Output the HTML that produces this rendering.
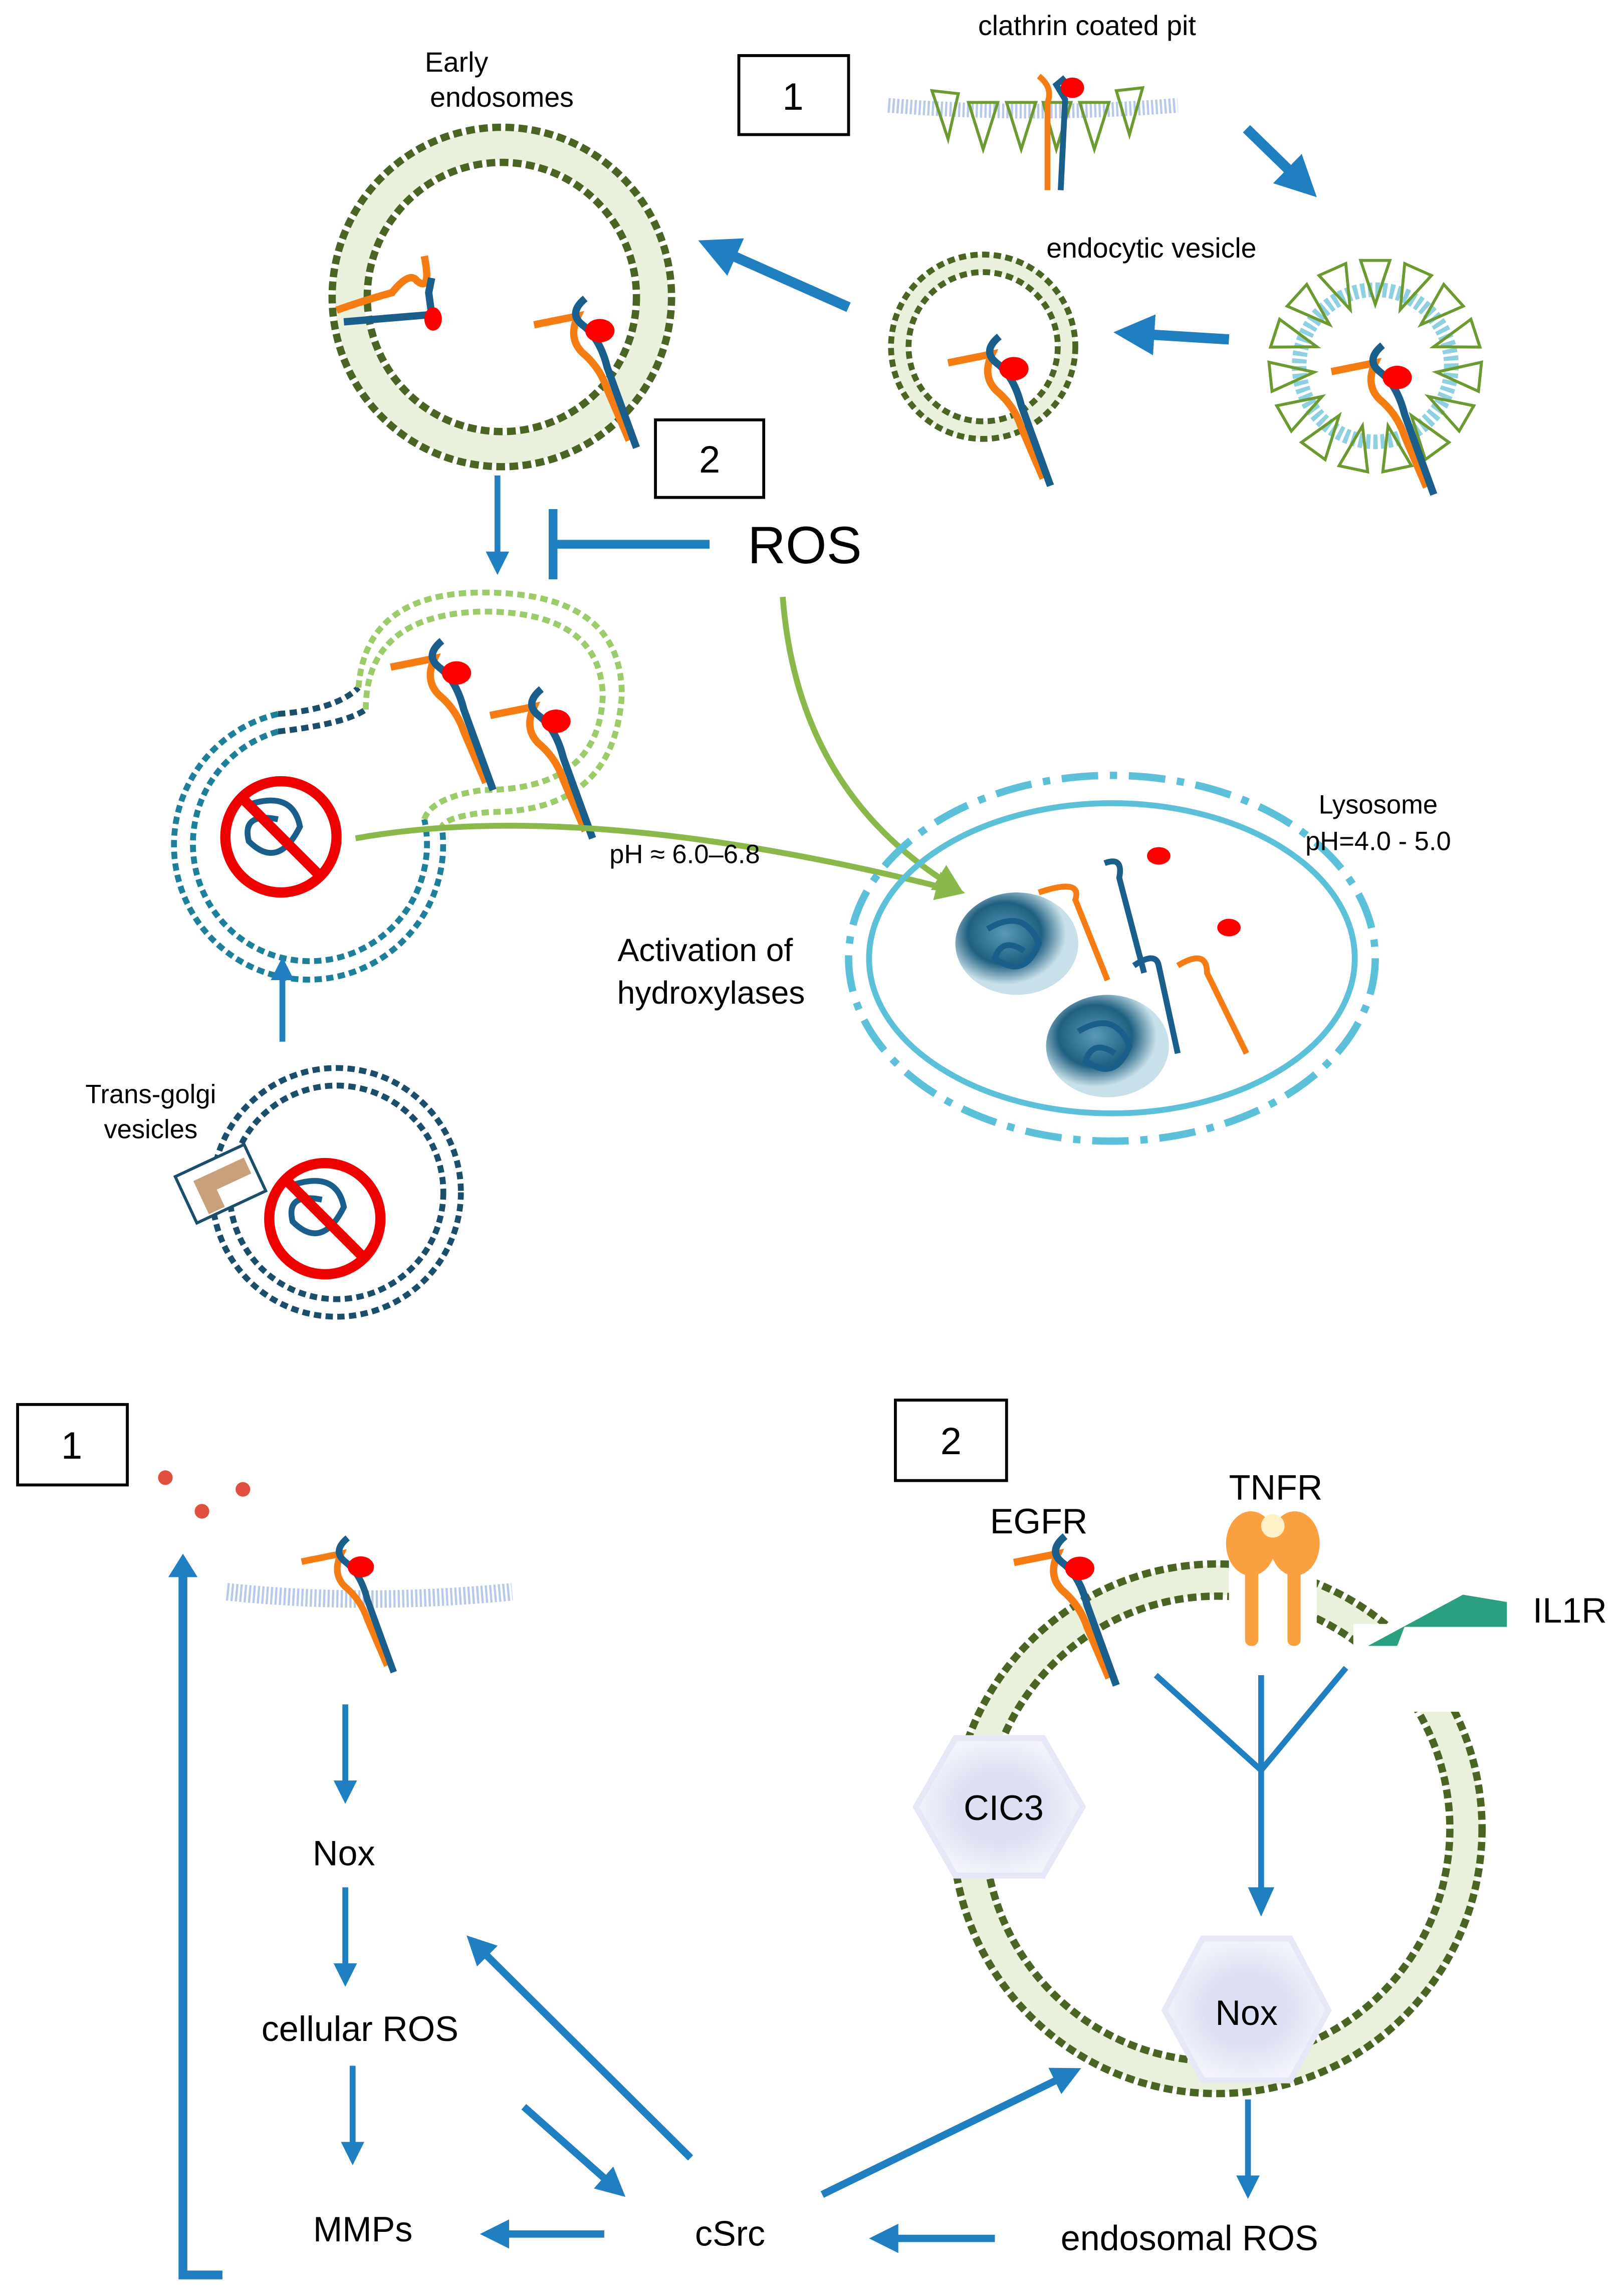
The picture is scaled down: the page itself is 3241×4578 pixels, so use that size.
<!DOCTYPE html>
<html><head><meta charset="utf-8"><style>html,body{margin:0;padding:0;background:#fff}svg{display:block}</style></head>
<body>
<svg width="3241" height="4578" viewBox="0 0 1110 1568" xmlns="http://www.w3.org/2000/svg" font-family="Liberation Sans, sans-serif">
<defs>
<marker id="ah" viewBox="0 0 10 10" refX="5" refY="5" markerWidth="4" markerHeight="4" orient="auto"><path d="M0,0L10,5L0,10z" fill="#1f7fc0"/></marker>
<marker id="ag" viewBox="0 0 10 10" refX="5" refY="5" markerWidth="5" markerHeight="5" orient="auto"><path d="M0,0L10,5L0,10z" fill="#8ab84a"/></marker>
<g id="rec">
<path d="M-45,-4 Q-25,-8 -15,-10 Q-22,5 -12,15 Q0,25 5,40 L20,75" fill="none" stroke="#f57c12" stroke-width="5"/>
<path d="M-10,-22 Q-22,-12 -12,-4 Q0,5 5,25 L25,80" fill="none" stroke="#1a5e8c" stroke-width="5"/>
<ellipse cx="0" cy="0" rx="10" ry="8" fill="#f00"/>
</g>
<path id="tri" d="M930,178 L950,178 L940,208 Z" fill="none" stroke="#6d9a30" stroke-width="2"/>
<radialGradient id="sph" cx="0.4" cy="0.4"><stop offset="0" stop-color="#5a9ab8"/><stop offset="0.6" stop-color="#1f5f80"/><stop offset="1" stop-color="#c8e0ea"/></radialGradient>
<radialGradient id="hex"><stop offset="0.5" stop-color="#dde0f2"/><stop offset="1" stop-color="#f2f3fb"/></radialGradient>
</defs>

<!-- Top: clathrin coated pit -->
<text x="743" y="24" font-size="19" text-anchor="middle">clathrin coated pit</text>
<rect x="505" y="38" width="75" height="54" fill="none" stroke="#000" stroke-width="2"/>
<text x="542" y="75" font-size="26" text-anchor="middle">1</text>
<path d="M607,72 Q706,80 805,72" fill="none" stroke="#b8c8e8" stroke-width="10" stroke-dasharray="1.5 1.5"/>
<path d="M637,62 L648,95 L655,64 Z M662,70 L672,102 L682,70 Z M688,70 L698,102 L708,70 Z M713,70 L722,102 L732,70 Z M738,70 L748,102 L758,70 Z M763,62 L772,92 L781,60 Z" fill="none" stroke="#6d9a30" stroke-width="2"/>
<path d="M710,52 Q720,60 716,70 L716,130" fill="none" stroke="#f57c12" stroke-width="4"/>
<path d="M728,53 L722,58 L728,68 L725,130" fill="none" stroke="#1a5e8c" stroke-width="4"/>
<ellipse cx="733" cy="60" rx="8" ry="7" fill="#f00"/>
<line x1="852" y1="88" x2="890" y2="125" stroke="#1f7fc0" stroke-width="7" marker-end="url(#ah)"/>

<!-- Clathrin vesicle -->
<circle cx="940" cy="250" r="52" fill="none" stroke="#8fd0e0" stroke-width="10" stroke-dasharray="3 2"/>
<use href="#tri"/>
<use href="#tri" transform="rotate(24 940 250)"/>
<use href="#tri" transform="rotate(48 940 250)"/>
<use href="#tri" transform="rotate(72 940 250)"/>
<use href="#tri" transform="rotate(96 940 250)"/>
<use href="#tri" transform="rotate(120 940 250)"/>
<use href="#tri" transform="rotate(144 940 250)"/>
<use href="#tri" transform="rotate(168 940 250)"/>
<use href="#tri" transform="rotate(192 940 250)"/>
<use href="#tri" transform="rotate(216 940 250)"/>
<use href="#tri" transform="rotate(240 940 250)"/>
<use href="#tri" transform="rotate(264 940 250)"/>
<use href="#tri" transform="rotate(288 940 250)"/>
<use href="#tri" transform="rotate(312 940 250)"/>
<use href="#tri" transform="rotate(336 940 250)"/>
<use href="#rec" x="955" y="258"/>
<text x="787" y="176" font-size="19" text-anchor="middle">endocytic vesicle</text>
<line x1="840" y1="232" x2="775" y2="228" stroke="#1f7fc0" stroke-width="7" marker-end="url(#ah)"/>

<!-- Endocytic vesicle -->
<circle cx="672" cy="237" r="57" fill="none" stroke="#e9f0dc" stroke-width="12"/>
<circle cx="672" cy="237" r="63" fill="none" stroke="#4a6424" stroke-width="4" stroke-dasharray="5 3"/>
<circle cx="672" cy="237" r="51" fill="none" stroke="#4a6424" stroke-width="4" stroke-dasharray="5 3"/>
<use href="#rec" x="693" y="252"/>
<line x1="580" y1="210" x2="490" y2="170" stroke="#1f7fc0" stroke-width="7" marker-end="url(#ah)"/>

<!-- Early endosomes -->
<text x="312" y="49" font-size="19" text-anchor="middle">Early</text>
<text x="343" y="73" font-size="19" text-anchor="middle">endosomes</text>
<circle cx="343" cy="203" r="104" fill="none" stroke="#e9f0dc" stroke-width="20"/>
<circle cx="343" cy="203" r="116" fill="none" stroke="#4a6424" stroke-width="5" stroke-dasharray="6 3"/>
<circle cx="343" cy="203" r="92" fill="none" stroke="#4a6424" stroke-width="5" stroke-dasharray="6 3"/>
<path d="M230,212 Q250,205 268,200 Q280,185 285,192 Q295,200 290,175" fill="none" stroke="#f57c12" stroke-width="5"/>
<path d="M235,220 L295,215 L293,200 L295,190" fill="none" stroke="#1a5e8c" stroke-width="5"/>
<ellipse cx="296" cy="218" rx="6" ry="8" fill="#f00"/>
<use href="#rec" x="410" y="226"/>

<rect x="448" y="287" width="74" height="53" fill="none" stroke="#000" stroke-width="2"/>
<text x="485" y="323" font-size="26" text-anchor="middle">2</text>
<line x1="340" y1="325" x2="340" y2="385" stroke="#1f7fc0" stroke-width="4" marker-end="url(#ah)"/>
<line x1="485" y1="372" x2="380" y2="372" stroke="#1f7fc0" stroke-width="6"/>
<line x1="378" y1="348" x2="378" y2="396" stroke="#1f7fc0" stroke-width="6"/>
<text x="550" y="385" font-size="36" text-anchor="middle">ROS</text>
<path d="M535,408 Q545,540 650,605" fill="none" stroke="#8ab84a" stroke-width="4" marker-end="url(#ag)"/>

<!-- Fused endosome -->
<path d="M190,500 A80,80 0 1 0 290,560" fill="none" stroke="#1e7f9a" stroke-width="4" stroke-dasharray="5 3"/>
<path d="M190,488 A92,92 0 1 0 302,565" fill="none" stroke="#1e7f9a" stroke-width="4" stroke-dasharray="5 3"/>
<path d="M190,500 Q235,495 250,485" fill="none" stroke="#1a4e6a" stroke-width="4" stroke-dasharray="5 3"/>
<path d="M190,488 Q230,485 245,470" fill="none" stroke="#1a4e6a" stroke-width="4" stroke-dasharray="5 3"/>
<path d="M250,485 Q250,420 330,418 Q410,418 412,475 Q410,540 330,540 Q295,545 290,560" fill="none" stroke="#9ccb6a" stroke-width="4" stroke-dasharray="5 3"/>
<path d="M245,470 Q250,405 330,405 Q425,405 425,475 Q420,555 335,555 Q305,558 302,565" fill="none" stroke="#9ccb6a" stroke-width="4" stroke-dasharray="5 3"/>
<use href="#rec" x="312" y="460"/>
<use href="#rec" x="380" y="493"/>
<circle cx="192" cy="572" r="38" fill="none" stroke="#e00" stroke-width="7"/>
<path d="M170,550 q30,-10 35,15 q-15,30 -35,10 q-5,-20 20,-15" fill="none" stroke="#1a5e8c" stroke-width="4"/>
<line x1="166" y1="546" x2="218" y2="598" stroke="#e00" stroke-width="7"/>
<path d="M243,573 Q400,545 650,608" fill="none" stroke="#8ab84a" stroke-width="4" marker-end="url(#ag)"/>
<text x="468" y="590" font-size="18" text-anchor="middle">pH ≈ 6.0–6.8</text>
<text x="482" y="657" font-size="22" text-anchor="middle">Activation of</text>
<text x="486" y="686" font-size="22" text-anchor="middle">hydroxylases</text>

<!-- Lysosome -->
<ellipse cx="760" cy="655" rx="166" ry="106" fill="none" stroke="#5bc0d8" stroke-width="4"/>
<ellipse cx="760" cy="655" rx="180" ry="125" fill="none" stroke="#5bc0d8" stroke-width="5" stroke-dasharray="25 8 5 8"/>
<text x="942" y="556" font-size="18" text-anchor="middle">Lysosome</text>
<text x="942" y="581" font-size="18" text-anchor="middle">pH=4.0 - 5.0</text>
<ellipse cx="695" cy="645" rx="42" ry="35" fill="url(#sph)"/>
<ellipse cx="757" cy="715" rx="42" ry="35" fill="url(#sph)"/>
<path d="M675,635 q25,-15 35,10 q-10,25 -30,10 q5,-15 20,-5" fill="none" stroke="#1a5e8c" stroke-width="4"/>
<path d="M737,705 q25,-15 35,10 q-10,25 -30,10 q5,-15 20,-5" fill="none" stroke="#1a5e8c" stroke-width="4"/>
<path d="M710,610 Q740,600 735,615 L757,670" fill="none" stroke="#f57c12" stroke-width="4"/>
<path d="M755,590 Q768,585 765,600 L782,665" fill="none" stroke="#1a5e8c" stroke-width="4"/>
<path d="M775,660 Q790,650 792,660 L805,720" fill="none" stroke="#1a5e8c" stroke-width="4"/>
<path d="M805,660 Q825,648 825,665 L852,720" fill="none" stroke="#f57c12" stroke-width="4"/>
<ellipse cx="792" cy="585" rx="8" ry="6" fill="#f00"/>
<ellipse cx="840" cy="634" rx="8" ry="6" fill="#f00"/>

<line x1="193" y1="712" x2="193" y2="662" stroke="#1f7fc0" stroke-width="4" marker-end="url(#ah)"/>

<!-- Trans-golgi -->
<text x="103" y="754" font-size="18" text-anchor="middle">Trans-golgi</text>
<text x="103" y="778" font-size="18" text-anchor="middle">vesicles</text>
<circle cx="230" cy="815" r="73" fill="none" stroke="#1a4e6a" stroke-width="4" stroke-dasharray="5 3"/>
<circle cx="230" cy="815" r="85" fill="none" stroke="#1a4e6a" stroke-width="4" stroke-dasharray="5 3"/>
<g transform="rotate(-25 150 810)"><rect x="125" y="792" width="52" height="35" fill="#fff" stroke="#1a4e6a" stroke-width="2"/><rect x="135" y="800" width="38" height="12" fill="#c8a07a"/><rect x="135" y="800" width="12" height="25" fill="#c8a07a"/></g>
<circle cx="222" cy="833" r="38" fill="none" stroke="#e00" stroke-width="7"/>
<path d="M200,810 q30,-10 35,15 q-15,30 -35,10 q-5,-20 20,-15" fill="none" stroke="#1a5e8c" stroke-width="4"/>
<line x1="196" y1="807" x2="248" y2="859" stroke="#e00" stroke-width="7"/>

<!-- Bottom left -->
<rect x="12" y="960" width="75" height="55" fill="none" stroke="#000" stroke-width="2"/>
<text x="49" y="997" font-size="26" text-anchor="middle">1</text>
<circle cx="113" cy="1010" r="5" fill="#e05040"/>
<circle cx="138" cy="1033" r="5" fill="#e05040"/>
<circle cx="166" cy="1018" r="5" fill="#e05040"/>
<path d="M152,1555 L125,1555 L125,1075" fill="none" stroke="#1f7fc0" stroke-width="6"/>
<path d="M115,1078 L125,1062 L135,1078 Z" fill="#1f7fc0"/>
<path d="M155,1088 Q250,1098 350,1088" fill="none" stroke="#b8c8e8" stroke-width="12" stroke-dasharray="1.5 1.5"/>
<use href="#rec" x="247" y="1072" transform="scale(0.9) translate(27,118)"/>
<line x1="236" y1="1165" x2="236" y2="1225" stroke="#1f7fc0" stroke-width="4" marker-end="url(#ah)"/>
<text x="235" y="1275" font-size="24" text-anchor="middle">Nox</text>
<line x1="236" y1="1290" x2="236" y2="1350" stroke="#1f7fc0" stroke-width="4" marker-end="url(#ah)"/>
<text x="246" y="1395" font-size="24" text-anchor="middle">cellular ROS</text>
<line x1="241" y1="1412" x2="241" y2="1472" stroke="#1f7fc0" stroke-width="4" marker-end="url(#ah)"/>
<text x="248" y="1532" font-size="24" text-anchor="middle">MMPs</text>
<text x="499" y="1535" font-size="24" text-anchor="middle">cSrc</text>
<line x1="413" y1="1527" x2="338" y2="1527" stroke="#1f7fc0" stroke-width="5" marker-end="url(#ah)"/>
<line x1="358" y1="1440" x2="420" y2="1495" stroke="#1f7fc0" stroke-width="5" marker-end="url(#ah)"/>
<line x1="472" y1="1475" x2="326" y2="1330" stroke="#1f7fc0" stroke-width="5" marker-end="url(#ah)"/>
<line x1="562" y1="1500" x2="730" y2="1418" stroke="#1f7fc0" stroke-width="5" marker-end="url(#ah)"/>
<line x1="680" y1="1530" x2="604" y2="1530" stroke="#1f7fc0" stroke-width="5" marker-end="url(#ah)"/>
<text x="813" y="1538" font-size="24" text-anchor="middle">endosomal ROS</text>
<line x1="853" y1="1435" x2="853" y2="1495" stroke="#1f7fc0" stroke-width="4" marker-end="url(#ah)"/>

<!-- Bottom right -->
<rect x="612" y="957" width="76" height="55" fill="none" stroke="#000" stroke-width="2"/>
<text x="650" y="994" font-size="26" text-anchor="middle">2</text>
<circle cx="832" cy="1250" r="170" fill="none" stroke="#e9f0dc" stroke-width="20"/>
<circle cx="832" cy="1250" r="181" fill="none" stroke="#4a6424" stroke-width="5" stroke-dasharray="6 3"/>
<circle cx="832" cy="1250" r="159" fill="none" stroke="#4a6424" stroke-width="5" stroke-dasharray="6 3"/>
<rect x="840" y="1040" width="60" height="70" fill="#fff"/>
<rect x="925" y="1110" width="80" height="60" fill="#fff"/>
<text x="710" y="1048" font-size="24" text-anchor="middle">EGFR</text>
<text x="872" y="1025" font-size="24" text-anchor="middle">TNFR</text>
<text x="1073" y="1109" font-size="24" text-anchor="middle">IL1R</text>
<use href="#rec" x="738" y="1072"/>
<ellipse cx="855" cy="1055" rx="17" ry="22" fill="#fba040"/>
<ellipse cx="885" cy="1055" rx="17" ry="22" fill="#fba040"/>
<rect x="851" y="1070" width="9" height="55" rx="4" fill="#fba040"/>
<rect x="880" y="1070" width="9" height="55" rx="4" fill="#fba040"/>
<ellipse cx="870" cy="1043" rx="8" ry="8" fill="#fff0c8"/>
<path d="M935,1125 L1000,1090 L1030,1095 L1030,1112 L960,1112 L955,1125 Z" fill="#2aa080"/>
<path d="M790,1145 L862,1210 L920,1140 M862,1145 L862,1295" fill="none" stroke="#1f7fc0" stroke-width="4"/>
<path d="M853,1290 L862,1310 L871,1290 Z" fill="#1f7fc0"/>
<polygon points="653,1188 713,1188 740,1235 713,1282 653,1282 626,1235" fill="url(#hex)" stroke="#e6e8f8" stroke-width="4"/>
<text x="686" y="1244" font-size="24" text-anchor="middle">CIC3</text>
<polygon points="822,1325 882,1325 908,1374 882,1422 822,1422 796,1374" fill="url(#hex)" stroke="#e6e8f8" stroke-width="4"/>
<text x="852" y="1384" font-size="24" text-anchor="middle">Nox</text>
</svg>
</body></html>
